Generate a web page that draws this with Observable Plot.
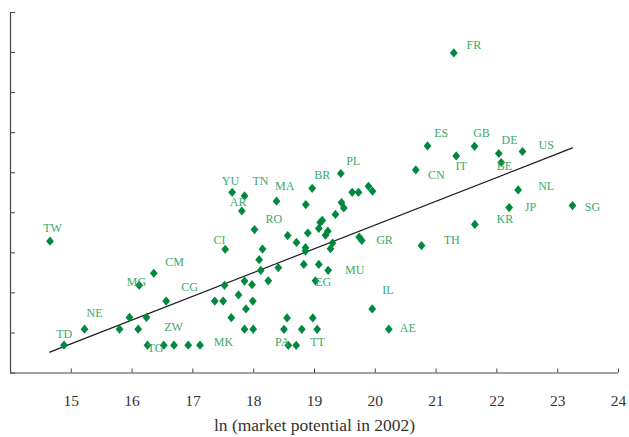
<!DOCTYPE html>
<html>
<head>
<meta charset="utf-8">
<script src="https://cdn.jsdelivr.net/npm/d3@7"></script>
<script src="https://cdn.jsdelivr.net/npm/@observablehq/plot@0.6"></script>
<style>
  html, body { margin: 0; padding: 0; background: #fff; }
  #chart svg { display: block; }
</style>
</head>
<body>
<div id="chart"></div>
<script>
// ln(market potential in 2002) for each country point
const marketPotential = [
  14.650, 14.880, 15.217, 15.793, 15.957, 16.100, 16.237, 16.117, 16.357, 16.561,
  16.253, 16.521, 16.689, 16.923, 17.117, 17.531, 17.520, 17.360, 17.498, 17.750,
  17.849, 17.972, 17.985, 17.873, 17.632, 17.849, 17.992, 17.804, 17.646, 17.849,
  18.013, 18.145, 18.090, 18.117, 18.240, 18.405, 18.559, 18.704, 18.890, 18.852,
  18.852, 18.824, 19.071, 19.225, 19.016, 18.548, 18.972, 18.498, 18.791, 19.044,
  18.569, 18.699, 18.375, 18.857, 18.962, 19.433, 19.620, 19.724, 19.888, 19.954,
  19.444, 19.482, 19.345, 19.127, 19.094, 19.071, 19.219, 19.181, 19.296, 19.263,
  19.735, 19.778, 20.760, 21.637, 19.949, 20.222, 21.291, 20.859, 21.632, 21.331,
  22.031, 22.071, 22.421, 20.666, 22.350, 22.202, 23.243
];
// vertical value (unlabelled axis) for each point
const yValue = [
  3.29, 0.695, 1.095, 1.095, 1.388, 1.095, 1.388, 2.19, 2.49, 1.795,
  0.695, 0.695, 0.695, 0.695, 0.695, 3.09, 2.19, 1.795, 1.795, 1.95,
  2.295, 2.205, 1.795, 1.60, 1.38, 1.095, 1.095, 4.045, 4.51, 4.42,
  3.58, 3.095, 2.83, 2.5625, 2.30, 2.63, 3.43, 3.26, 3.495, 3.13,
  3.045, 2.71, 2.71, 2.5625, 2.30, 1.375, 1.375, 1.09, 1.09, 1.09,
  0.69, 0.69, 4.29, 4.205, 4.61, 4.98, 4.51, 4.51, 4.66, 4.54,
  4.255, 4.12, 3.96, 3.81, 3.76, 3.61, 3.54, 3.44, 3.245, 3.105,
  3.395, 3.31, 3.18, 3.71, 1.60, 1.095, 7.99, 5.67, 5.66, 5.42,
  5.48, 5.255, 5.53, 5.07, 4.57, 4.13, 4.18
];

// country code labels and where they sit (data units)
const labelCodes = ["TW","TD","NE","MG","CM","CG","ZW","TG","MK","CI","AR","YU","TN","MA","RO","BR","PL","PA","TT","EG","MU","GR","IL","AE","TH","KR","JP","SG","NL","US","DE","BE","GB","ES","IT","CN","FR"];
const labelX = [14.691,14.883,15.382,16.072,16.697,16.944,16.681,16.385,17.503,17.438,17.745,17.618,18.112,18.511,18.331,19.127,19.636,18.469,19.049,19.143,19.661,20.151,20.206,20.535,21.258,22.130,22.553,23.572,22.811,22.811,22.207,22.125,21.747,21.084,21.413,21.002,21.620];
const labelY = [3.61,0.9625,1.4875,2.2625,2.7625,2.1375,1.1375,0.6125,0.7625,3.3125,4.255,4.7875,4.7875,4.6625,3.83,4.93,5.30,0.7625,0.7625,2.27,2.58,3.3125,2.0625,1.13,3.3125,3.8375,4.13,4.13,4.67,5.6875,5.805,5.1625,5.9875,5.9875,5.17,4.9375,8.1875];

// fitted regression line end points
const fitX = [14.646, 23.243];
const fitY = [0.52, 5.62];

const xTicks = [15, 16, 17, 18, 19, 20, 21, 22, 23, 24];
const yTicks = [0, 1, 2, 3, 4, 5, 6, 7, 8, 9];
const xTitle = "ln (market potential in 2002)";

const points = marketPotential.map((x, i) => ({x, y: yValue[i]}));
const labels = labelCodes.map((c, i) => ({c, x: labelX[i], y: labelY[i]}));
const fit = fitX.map((x, i) => ({x, y: fitY[i]}));

const diamond = {
  draw(context, size) {
    const w = 3.9, h = 4.6;
    context.moveTo(0, -h);
    context.lineTo(w, 0);
    context.lineTo(0, h);
    context.lineTo(-w, 0);
    context.closePath();
  }
};

const serif = "'Liberation Serif', 'DejaVu Serif', serif";

const chart = Plot.plot({
  width: 629,
  height: 437,
  marginLeft: 10,
  marginRight: 11,
  marginTop: 12,
  marginBottom: 64.5,
  style: {fontFamily: serif, background: "#fff"},
  x: {domain: [14, 24]},
  y: {domain: [0, 9]},
  marks: [
    Plot.axisX({ticks: xTicks, tickSize: -4, tickPadding: 26, fontSize: 15.5, stroke: "#444", color: "#333", label: null}),
    Plot.axisY({ticks: yTicks, tickSize: -5, tickFormat: () => "", stroke: "#444", label: null}),
    Plot.ruleY([0], {stroke: "#444", strokeWidth: 1.2}),
    Plot.ruleX([14], {stroke: "#444", strokeWidth: 1.2}),
    Plot.line(fit, {x: "x", y: "y", stroke: "#1a1a1a", strokeWidth: 1.2}),
    Plot.dot(points, {x: "x", y: "y", symbol: diamond, fill: "#00883e", stroke: "none", r: 4}),
    Plot.text(labels, {x: "x", y: "y", text: "c", fill: "#3aaa68", fontSize: 12, fontFamily: serif}),
    Plot.text([xTitle], {frameAnchor: "bottom", lineAnchor: "middle", dy: 52.5, text: d => d, fontSize: 17.5, fill: "#333", fontFamily: serif})
  ]
});

document.getElementById("chart").appendChild(chart);
</script>
</body>
</html>
